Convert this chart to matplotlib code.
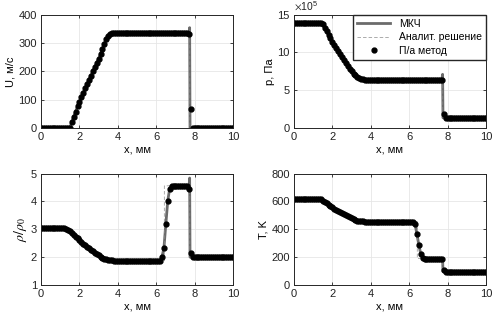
import numpy as np
import matplotlib
matplotlib.use("Agg")
import matplotlib.pyplot as plt

plt.rcParams.update({
    "font.family": ["Liberation Sans", "DejaVu Sans"],
    "font.size": 8,
    "mathtext.fontset": "stix",
})

# ── data ──────────────────────────────────────────────────────────────────────
x_pts = np.round(np.arange(101) * 0.1, 1)          # mesh nodes, mm

u_pts = ([0.0] * 16
         + [20, 40, 58, 76, 93, 109, 125, 140, 155, 170, 185, 200, 215, 230,
            245, 262, 280, 298, 314, 326, 332, 335]
         + [335.0] * 39 + [330, 66] + [0.0] * 22)

p_pts = ([13.9] * 15
         + [13.7, 13.2, 12.8, 12.3, 11.9, 11.4, 11.0, 10.6, 10.2, 9.8, 9.4,
            9.0, 8.6, 8.2, 7.85, 7.5, 7.2, 6.95, 6.75, 6.6, 6.5, 6.42]
         + [6.4] * 40 + [6.4, 1.9] + [1.35] * 22)           # x 1e5 Pa

rho_pts = ([3.03] * 13
           + [3.02, 2.99, 2.95, 2.88, 2.80, 2.73, 2.67, 2.61, 2.55, 2.49, 2.43,
              2.37, 2.32, 2.26, 2.21, 2.16, 2.11, 2.06, 2.02, 1.98, 1.95, 1.92,
              1.90, 1.89, 1.88]
           + [1.87] * 25
           + [2.02, 2.32, 3.19, 4.02, 4.46, 4.56]
           + [4.56] * 8 + [4.46, 2.16] + [2.0] * 22)

t_pts = ([615] * 14
         + [614, 606, 596, 586, 576, 567, 558, 549, 540, 532, 524, 516, 508,
            500, 493, 486, 479, 473, 468, 463, 459, 457, 456]
         + [455] * 26
         + [440, 368, 290, 225, 196]
         + [190] * 10 + [110] + [97] * 22)

# МКЧ overshoot at the shock front
x_shock = 7.74
u_spike, u_post = 354, 0
p_spike, p_post = 7.1, 1.35
rho_spike, rho_post = 4.84, 2.0
t_spike, t_post = 190, 97

# analytic solution (break points)
u_ax = [0, 1.5, 3.7, 7.75, 7.75, 10]
u_av = [0, 0, 335, 335, 0, 0]
p_ax = [0, 1.45, 2.0, 2.5, 3.0, 3.7, 7.75, 7.75, 10]
p_av = [13.9, 13.9, 11.4, 9.4, 7.5, 6.4, 6.4, 1.35, 1.35]
rho_ax = [0, 1.3, 2.0, 2.7, 3.8, 6.42, 6.42, 7.75, 7.75, 10]
rho_av = [3.03, 3.03, 2.61, 2.21, 1.87, 1.87, 4.56, 4.56, 2.0, 2.0]
t_ax = [0, 1.4, 2.0, 2.8, 3.7, 6.42, 6.42, 7.75, 7.75, 10]
t_av = [615, 615, 558, 493, 455, 455, 190, 190, 97, 97]

LINE = "#6b6b6b"
DASH = "#8a8a8a"


def mkch_line(vals, spike, post):
    xs = list(x_pts[:78]) + [x_shock, x_shock + 0.02] + list(x_pts[79:])
    ys = list(vals[:78]) + [spike, post] + list(vals[79:])
    return xs, ys


def draw(ax, vals, spike, post, ax_x, ax_v):
    lx, ly = mkch_line(vals, spike, post)
    ax.plot(lx, ly, color=LINE, lw=2.0, label="МКЧ")
    ax.plot(ax_x, ax_v, color=DASH, lw=0.5, dashes=(5, 3),
            label="Аналит. решение")
    ax.plot(x_pts, vals, ls="none", marker="o", ms=3.5, color="black",
            label="П/а метод")
    ax.set_xlim(0, 10)
    ax.set_xticks([0, 2, 4, 6, 8, 10])
    ax.set_xlabel("x, мм", labelpad=2)
    ax.grid(True, color="#e6e6e6", lw=0.6)
    ax.set_axisbelow(True)
    ax.tick_params(direction="in", length=2.5, width=0.6, top=True,
                   right=True, pad=3, colors="#222222")
    for s in ax.spines.values():
        s.set_linewidth(0.7)
        s.set_color("#262626")


fig = plt.figure(figsize=(4.93, 3.23), dpi=100)
W = 0.3895
ax1 = fig.add_axes([0.0832, 0.6037, W, 0.351])
ax2 = fig.add_axes([0.5963, 0.6037, W, 0.351])
ax3 = fig.add_axes([0.0832, 0.1176, W, 0.345])
ax4 = fig.add_axes([0.5963, 0.1176, W, 0.345])

draw(ax1, u_pts, u_spike, u_post, u_ax, u_av)
ax1.set_ylim(0, 400)
ax1.set_yticks([0, 100, 200, 300, 400])
ax1.set_ylabel("U, м/с", labelpad=2)

draw(ax2, p_pts, p_spike, p_post, p_ax, p_av)
ax2.set_ylim(0, 15)
ax2.set_yticks([0, 5, 10, 15])
ax2.text(0.0, 1.015, r"$\times\mathregular{10^5}$", transform=ax2.transAxes,
         ha="left", va="bottom", fontsize=7.5, color="#222222")
ax2.set_ylabel("p, Па", labelpad=2)
ax2.legend(loc="upper right", borderaxespad=0, fontsize=7.5,
           fancybox=False, framealpha=1, edgecolor="#262626",
           handlelength=3.2, borderpad=0.4, labelspacing=0.35)

draw(ax3, rho_pts, rho_spike, rho_post, rho_ax, rho_av)
ax3.set_ylim(1, 5)
ax3.set_yticks([1, 2, 3, 4, 5])
ax3.set_ylabel(r"$\rho/\rho_0$", labelpad=1, fontsize=10)

draw(ax4, t_pts, t_spike, t_post, t_ax, t_av)
ax4.set_ylim(0, 800)
ax4.set_yticks([0, 200, 400, 600, 800])
ax4.set_ylabel("T, K", labelpad=2)

fig.savefig("out.png", dpi=100)
